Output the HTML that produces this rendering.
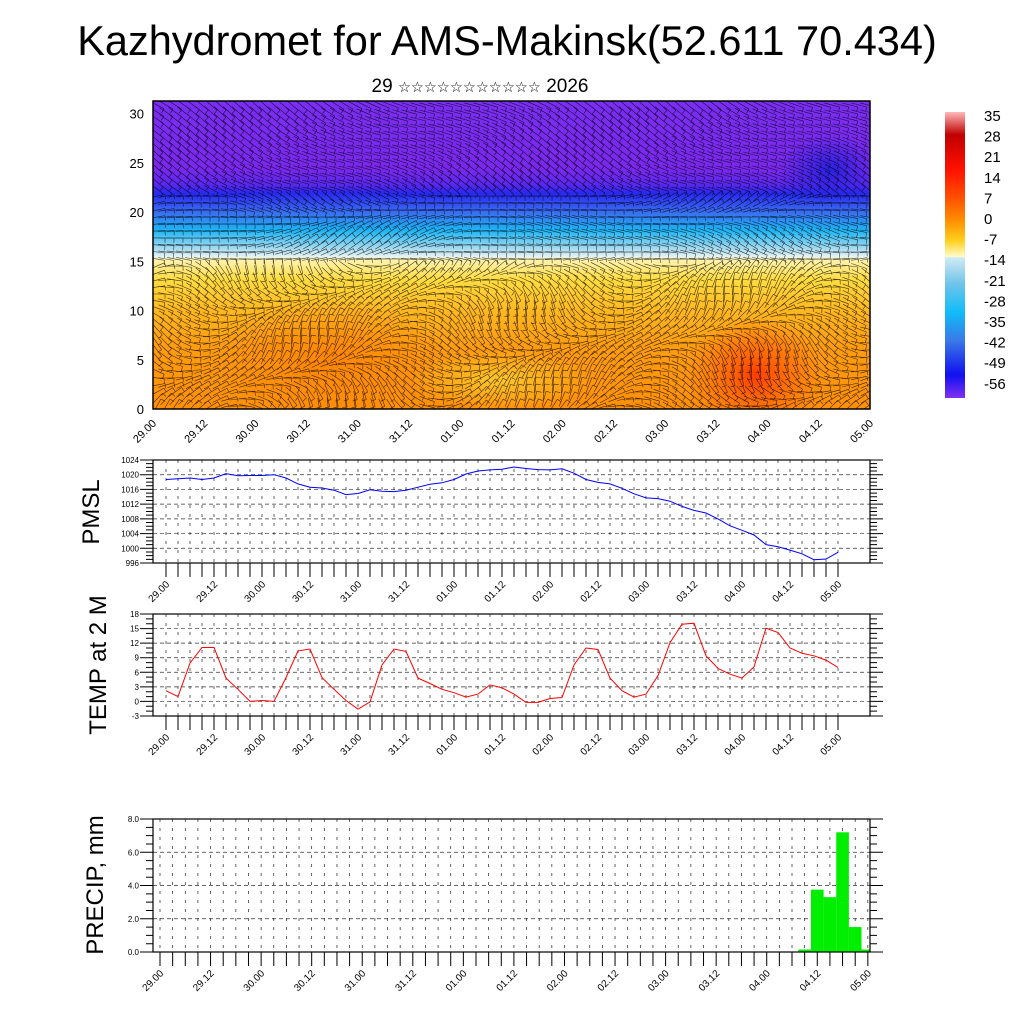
<!DOCTYPE html>
<html><head><meta charset="utf-8">
<style>
html,body{margin:0;padding:0;background:#fff;}
svg{display:block;font-family:"Liberation Sans","DejaVu Sans",sans-serif;}
</style></head>
<body>
<svg id="fig" width="1024" height="1024" viewBox="0 0 1024 1024" xmlns="http://www.w3.org/2000/svg">
<defs>
<linearGradient id="tgrad" x1="0" y1="0" x2="0" y2="1">
<stop offset="0" stop-color="#7a2ef2"/>
<stop offset="0.22" stop-color="#7a28ee"/>
<stop offset="0.27" stop-color="#5a28ee"/>
<stop offset="0.30" stop-color="#2828f0"/>
<stop offset="0.36" stop-color="#3a6cf0"/>
<stop offset="0.42" stop-color="#1cb4f4"/>
<stop offset="0.48" stop-color="#a8dcf0"/>
<stop offset="0.505" stop-color="#e4f2f4"/>
<stop offset="0.515" stop-color="#fff4b0"/>
<stop offset="0.58" stop-color="#ffdc40"/>
<stop offset="0.68" stop-color="#ffb820"/>
<stop offset="0.8" stop-color="#ff9c10"/>
<stop offset="1" stop-color="#ff9008"/>
</linearGradient>
<radialGradient id="redspot"><stop offset="0" stop-color="#ff3800" stop-opacity="0.95"/><stop offset="1" stop-color="#ff6000" stop-opacity="0"/></radialGradient>
<radialGradient id="orspot"><stop offset="0" stop-color="#ff8000" stop-opacity="0.8"/><stop offset="1" stop-color="#ff8000" stop-opacity="0"/></radialGradient>
<radialGradient id="yspot"><stop offset="0" stop-color="#ffd030" stop-opacity="0.85"/><stop offset="1" stop-color="#ffd030" stop-opacity="0"/></radialGradient>
<radialGradient id="bspot"><stop offset="0" stop-color="#2020e0" stop-opacity="0.9"/><stop offset="1" stop-color="#2020e0" stop-opacity="0"/></radialGradient>
<linearGradient id="cbar" x1="0" y1="0" x2="0" y2="1">
<stop offset="0" stop-color="#ffb8b8"/>
<stop offset="0.08" stop-color="#c00000"/>
<stop offset="0.2" stop-color="#ff1000"/>
<stop offset="0.3" stop-color="#ff5000"/>
<stop offset="0.38" stop-color="#ff9000"/>
<stop offset="0.45" stop-color="#ffd020"/>
<stop offset="0.505" stop-color="#fffcc8"/>
<stop offset="0.51" stop-color="#d0eaf4"/>
<stop offset="0.6" stop-color="#70c4ea"/>
<stop offset="0.7" stop-color="#10bcf8"/>
<stop offset="0.8" stop-color="#3a78e8"/>
<stop offset="0.92" stop-color="#1010f0"/>
<stop offset="1" stop-color="#8030f0"/>
</linearGradient>
<clipPath id="topclip"><rect x="153" y="101" width="717" height="308"/></clipPath>
<clipPath id="prclip"><rect x="153" y="819" width="717" height="133"/></clipPath>
</defs>
<text x="507" y="55" font-size="41.5" text-anchor="middle">Kazhydromet for AMS-Makinsk(52.611 70.434)</text>
<text x="480" y="92" font-size="19" text-anchor="middle">29 <tspan font-size="14.5" font-family="DejaVu Sans">☆☆☆☆☆☆☆☆☆☆☆</tspan> 2026</text>

<g>
<g clip-path="url(#topclip)">
<rect x="153" y="101" width="717" height="308" fill="url(#tgrad)"/>
<ellipse cx="755" cy="375" rx="70" ry="60" fill="url(#redspot)"/>
<ellipse cx="330" cy="360" rx="120" ry="60" fill="url(#orspot)"/>
<ellipse cx="500" cy="380" rx="90" ry="30" fill="url(#yspot)"/>
<ellipse cx="830" cy="170" rx="50" ry="35" fill="url(#bspot)"/>
<g id="vectors"></g>
</g>
<rect x="153" y="101" width="717" height="308" fill="none" stroke="#000" stroke-width="1.5"/>
<g id="topaxes"></g>
</g>

<g>
<rect x="945" y="112" width="20" height="286" fill="url(#cbar)"/>
<g id="cbarlabels"></g>
</g>

<g id="pmsl"></g>
<g id="temp"></g>
<g id="precip"></g>

<text transform="translate(99,512) rotate(-90)" font-size="24" text-anchor="middle">PMSL</text>
<text transform="translate(106,665) rotate(-90)" font-size="24" text-anchor="middle">TEMP at 2 M</text>
<text transform="translate(103,885) rotate(-90)" font-size="24" text-anchor="middle">PRECIP, mm</text>
</svg>
<script>
const timeLabels = ["29.00","29.12","30.00","30.12","31.00","31.12","01.00","01.12","02.00","02.12","03.00","03.12","04.00","04.12","05.00"];
const pmslValues = [1018.7,1018.9,1019.1,1018.7,1019.1,1020.3,1019.7,1019.8,1019.8,1020.0,1019.1,1017.5,1016.6,1016.4,1015.8,1014.6,1014.9,1015.9,1015.5,1015.4,1015.8,1016.6,1017.4,1017.8,1018.7,1020.2,1021.0,1021.3,1021.5,1022.1,1021.7,1021.4,1021.3,1021.6,1020.4,1018.7,1017.9,1017.5,1016.3,1014.8,1013.7,1013.5,1012.8,1011.4,1010.3,1009.6,1008.0,1006.1,1004.9,1003.6,1001.0,1000.4,999.5,998.5,996.9,997.1,998.9];
const tempValues = [2.2,1.0,7.9,11.1,11.1,4.8,2.5,0.0,0.2,0.0,4.9,10.4,10.8,4.9,2.5,0.2,-1.6,-0.1,7.5,10.8,10.3,4.8,3.7,2.5,1.8,0.9,1.5,3.4,2.8,1.5,-0.2,-0.2,0.6,0.8,7.5,11.0,10.7,4.8,2.2,0.9,1.5,5.3,12.1,15.9,16.1,9.4,6.8,5.6,4.8,7.1,15.1,14.2,11.0,9.9,9.4,8.5,7.0];
const precipValues = [0,0,0,0,0,0,0,0,0,0,0,0,0,0,0,0,0,0,0,0,0,0,0.03,0.03,0.03,0.03,0.03,0,0,0,0,0,0.03,0,0,0,0,0,0,0,0,0,0,0,0,0,0,0,0,0,0,0.15,3.75,3.3,7.2,1.5,0.15];
const pmslTicks = [996,1000,1004,1008,1012,1016,1020,1024];
const tempTicks = [-3,0,3,6,9,12,15,18];
const precipTicks = [0,2,4,6,8];
const topYTicks = [0,5,10,15,20,25,30];
const cbarLabels = ["35","28","21","14","7","0","-7","-14","-21","-28","-35","-42","-49","-56"];

const NS="http://www.w3.org/2000/svg";
function mk(tag,attrs,parent){const e=document.createElementNS(NS,tag);for(const k in attrs)e.setAttribute(k,attrs[k]);parent.appendChild(e);return e;}

const cb=document.getElementById('cbarlabels');
cbarLabels.forEach((t,i)=>{
  const e=mk('text',{x:984,y:121+i*20.6,'font-size':15},cb);
  
  
  e.textContent=t;
});

const ta=document.getElementById('topaxes');
const topX=i=>153+i*(717/56);
const topY=v=>409-v*9.85;
topYTicks.forEach(v=>{
  const e=mk('text',{x:144,y:topY(v)+5,'font-size':13,'text-anchor':'end'},ta);
  
  
  e.textContent=v;
});
timeLabels.forEach((t,i)=>{
  const x=topX(i*4);
  const e=mk('text',{transform:`translate(${x+4},${424}) rotate(-45)`,'font-size':11,'text-anchor':'end'},ta);
  
  
  e.textContent=t;
});

// wind vectors (decorative field)
const vg=document.getElementById('vectors');
let d='';
for(let gx=0;gx<80;gx++){
  for(let gy=0;gy<44;gy++){
    const x=157+gx*9, y=105+gy*7;
    const h=(409-y)/9.85;
    let a;
    if(h>22) a=0.5+0.25*Math.sin(gx/7+gy/5);
    else if(h>15) a=0.2*Math.sin(gx/5+gy/3)+0.5*Math.sin(gx/13)*Math.cos(gy/2);
    else a=1.0*Math.sin(gx/6+gy/4)+0.5*Math.cos(gx/11-gy/3);
    const L=16;
    const dx=Math.cos(a)*L, dy=Math.sin(a)*L;
    d+=`M${(x-dx/2).toFixed(1)} ${(y-dy/2).toFixed(1)}L${(x+dx/2).toFixed(1)} ${(y+dy/2).toFixed(1)}`;
    const tx=x+dx/2, ty=y+dy/2;
    d+=`M${tx.toFixed(1)} ${ty.toFixed(1)}l${(-dy*0.3).toFixed(1)} ${(dx*0.3).toFixed(1)}`;
  }
}
const vp=mk('path',{d:d,stroke:'#000','stroke-width':0.6,'stroke-opacity':0.75,fill:'none'},vg);



function panel(gid,opt){
  const g=document.getElementById(gid);
  const L=153,R=870,T=opt.top,B=opt.bottom;
  const xs=i=>opt.x0+i*opt.dx;
  const ys=v=>B-(v-opt.min)/(opt.max-opt.min)*(B-T);
  let gd='';
  for(let i=0;i<=56;i++){const x=xs(i); if(x<L||x>R)continue; gd+=`M${x} ${T}L${x} ${B}`;}
  const gv=mk('path',{d:gd,stroke:'#222','stroke-width':0.7,'stroke-dasharray':'3 6',fill:'none'},g);
  
  
  let hd='';
  opt.ticks.forEach(v=>{hd+=`M${L} ${ys(v)}L${R} ${ys(v)}`;});
  const gh=mk('path',{d:hd,stroke:'#333','stroke-width':0.7,'stroke-dasharray':'4 3',fill:'none'},g);
  
  
  let td='';
  const maj0=opt.ticks[1]-opt.ticks[0];
  const step=maj0/opt.minorN;
  for(let k=0;k*step<=opt.max-opt.min+1e-6;k++){
    const v=opt.min+k*step;
    const len=(k%opt.minorN===0)?13:7;
    td+=`M${L-len} ${ys(v)}L${L} ${ys(v)}M${R} ${ys(v)}L${R+len} ${ys(v)}`;
  }
  for(let i=0;i<=56;i++){const x=xs(i); td+=`M${x} ${B}L${x} ${B+14}`;}
  const tk=mk('path',{d:td,stroke:'#000','stroke-width':1,fill:'none'},g);
  
  
  opt.ticks.forEach(v=>{
    const e=mk('text',{x:L-14,y:ys(v)+3,'font-size':8,'text-anchor':'end'},g);
    
    
    e.textContent=opt.fmt(v);
  });
  timeLabels.forEach((t,i)=>{
    const x=xs(i*4);
    const e=mk('text',{transform:`translate(${x+4},${B+22}) rotate(-45)`,'font-size':10,'text-anchor':'end'},g);
    
    
    e.textContent=t;
  });
  if(opt.line){
    let ld='';
    opt.line.forEach((v,i)=>{ld+=(i?'L':'M')+xs(i).toFixed(1)+' '+ys(v).toFixed(1);});
    const p=mk('path',{d:ld,stroke:opt.color,'stroke-width':1,fill:'none'},g);
    
    
  }
  if(opt.bars){
    const bg=mk('g',{'clip-path':'url(#prclip)'},g);
    opt.bars.forEach((v,i)=>{
      if(v<=0)return;
      const r=mk('rect',{x:xs(i)-opt.dx/2,y:ys(v),width:opt.dx,height:B-ys(v),fill:'#00ee00'},bg);
      
      
    });
  }
  const fr=mk('rect',{x:L,y:T,width:R-L,height:B-T,fill:'none',stroke:'#000','stroke-width':1.2},g);
  
  
}
panel('pmsl',{top:460,bottom:563,min:996,max:1024,ticks:pmslTicks,minorN:4,x0:166,dx:12,line:pmslValues,color:'#0000ff',name:'pmsl-line',fmt:v=>v});
panel('temp',{top:614,bottom:716,min:-3,max:18,ticks:tempTicks,minorN:3,x0:166,dx:12,line:tempValues,color:'#ff0000',name:'temp-line',fmt:v=>v});
panel('precip',{top:819,bottom:952,min:0,max:8,ticks:precipTicks,minorN:4,x0:160,dx:12.64,bars:precipValues,fmt:v=>v.toFixed(1)});
</script>
</body></html>
